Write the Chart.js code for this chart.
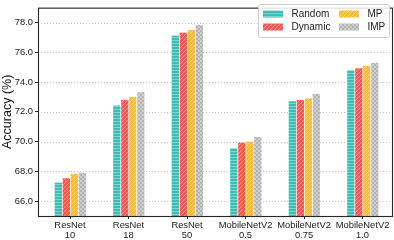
<!DOCTYPE html>
<html>
<head>
<meta charset="utf-8">
<script src="https://cdn.jsdelivr.net/npm/chart.js@4/dist/chart.umd.min.js"></script>
<style>
  html, body { margin: 0; padding: 0; background: #fff; }
  #wrap { width: 394px; height: 240px; position: relative; }
</style>
</head>
<body>
<div id="wrap"><canvas id="c" width="394" height="240"></canvas></div>
<script>
// ---- data ----
const categoryNames = ['ResNet', 'ResNet', 'ResNet', 'MobileNetV2', 'MobileNetV2', 'MobileNetV2'];
const categoryVariants = ['10', '18', '50', '0.5', '0.75', '1.0'];
const seriesNames = ['Random', 'Dynamic', 'MP', 'IMP'];
const randomValues  = [67.25, 72.43, 77.12, 69.55, 72.71, 74.80];
const dynamicValues = [67.53, 72.81, 77.33, 69.94, 72.80, 74.92];
const mpValues      = [67.83, 72.99, 77.50, 70.00, 72.90, 75.10];
const impValues     = [67.91, 73.31, 77.83, 70.30, 73.22, 75.29];
const yTickValues = [66, 68, 70, 72, 74, 76, 78];

// ---- hatch patterns ----
function makePattern(base, stripe, kind) {
  const size = kind === 'h' ? 3 : 4;
  const cv = document.createElement('canvas');
  cv.width = size; cv.height = size;
  const g = cv.getContext('2d');
  g.fillStyle = base; g.fillRect(0, 0, size, size);
  g.fillStyle = stripe; g.strokeStyle = stripe;
  if (kind === 'h') {
    g.fillRect(0, 1, size, 1);
  } else if (kind === 'd') {
    g.lineWidth = 1;
    for (let o = -size; o <= size; o += size) {
      g.beginPath(); g.moveTo(o, size); g.lineTo(o + size, 0); g.stroke();
    }
  } else {
    g.fillRect(0, 0, 2, 2); g.fillRect(2, 2, 2, 2);
  }
  return g.createPattern(cv, 'repeat');
}
const fills = [
  makePattern('#3dbdb3', '#7fd5ce', 'h'),
  makePattern('#ee5a55', '#f49490', 'd'),
  makePattern('#f4bd3a', '#f8d47f', 'd'),
  makePattern('#b3b3b3', '#cfcfcf', 'x')
];
const seriesValues = [randomValues, dynamicValues, mpValues, impValues];

const datasets = seriesNames.map((name, s) => ({
  label: name,
  data: seriesValues[s].map((v, i) => ({ x: i, y: v })),
  backgroundColor: fills[s],
  borderColor: 'rgba(255,255,255,0.95)',
  borderWidth: { left: 1, right: 0, top: 0, bottom: 0 },
  borderSkipped: false,
  barThickness: 8
}));

const FONT = 'Liberation Sans, Arial, Helvetica, sans-serif';

const gridPlugin = {
  id: 'dottedGrid',
  beforeDatasetsDraw(chart) {
    const ctx = chart.ctx, a = chart.chartArea, ys = chart.scales.y;
    ctx.save();
    ctx.strokeStyle = '#c4c4c4';
    ctx.lineWidth = 1;
    ctx.setLineDash([1, 2]);
    ys.ticks.forEach(t => {
      const py = Math.round(ys.getPixelForValue(t.value)) + 0.5;
      ctx.beginPath(); ctx.moveTo(a.left, py); ctx.lineTo(a.right, py); ctx.stroke();
    });
    ctx.restore();
  }
};

const framePlugin = {
  id: 'frame',
  afterDraw(chart) {
    const ctx = chart.ctx, a = chart.chartArea;
    ctx.save();
    ctx.strokeStyle = '#262626';
    ctx.lineWidth = 1.1;
    ctx.strokeRect(a.left + 0.5, a.top + 0.5, a.right - a.left - 1, a.bottom - a.top);
    // legend box
    const bx = 258.5, by = 4.5, bw = 131, bh = 33;
    ctx.fillStyle = 'rgba(255,255,255,0.85)';
    ctx.strokeStyle = '#d0d0d0';
    ctx.lineWidth = 1;
    ctx.beginPath();
    ctx.roundRect(bx, by, bw, bh, 2.5);
    ctx.fill(); ctx.stroke();
    const cols = [263, 339];
    const rows = [10.5, 23.5];
    const order = [[0, 0, 0], [1, 0, 1], [2, 1, 0], [3, 1, 1]]; // dataset, col, row
    ctx.font = '10px ' + FONT;
    ctx.textBaseline = 'middle';
    order.forEach(([d, c, r]) => {
      const ds = chart.data.datasets[d];
      ctx.fillStyle = ds.backgroundColor;
      ctx.fillRect(cols[c], rows[r], 20, 7);
      ctx.fillStyle = '#222';
      ctx.fillText(ds.label, cols[c] + 28.5, rows[r] + 3.8);
    });
    ctx.restore();
  }
};

new Chart(document.getElementById('c'), {
  type: 'bar',
  data: { datasets },
  options: {
    responsive: false,
    animation: false,
    devicePixelRatio: 1,
    layout: { padding: { top: 1, right: 1, left: 0, bottom: 0 } },
    plugins: { legend: { display: false }, tooltip: { enabled: false } },
    scales: {
      x: {
        type: 'linear',
        offset: false,
        min: -0.547,
        max: 5.521,
        afterBuildTicks(scale) { scale.ticks = categoryNames.map((n, i) => ({ value: i })); },
        afterFit(scale) { scale.height = 24; },
        grid: { display: true, offset: false, drawOnChartArea: false, drawTicks: true, tickLength: 3, tickColor: '#262626' },
        border: { display: false },
        ticks: {
          color: '#222',
          padding: 1,
          maxRotation: 0,
          autoSkip: false,
          font: { family: FONT, size: 9.4, lineHeight: 1.1 },
          callback(v) { const i = Math.round(v); return [categoryNames[i], categoryVariants[i]]; }
        }
      },
      y: {
        min: 65,
        max: 79,
        afterBuildTicks(scale) { scale.ticks = yTickValues.map(v => ({ value: v })); },
        afterFit(scale) { scale.width = 38; },
        grid: { display: true, drawOnChartArea: false, drawTicks: true, tickLength: 3, tickColor: '#262626' },
        border: { display: false },
        ticks: {
          color: '#222',
          padding: 2,
          font: { family: FONT, size: 9.4 },
          callback(v) { return v.toFixed(1); }
        },
        title: {
          display: true,
          text: 'Accuracy (%)',
          color: '#111',
          padding: { top: 0, bottom: 0 },
          font: { family: FONT, size: 12.5 }
        }
      }
    }
  },
  plugins: [gridPlugin, framePlugin]
});
</script>
</body>
</html>
